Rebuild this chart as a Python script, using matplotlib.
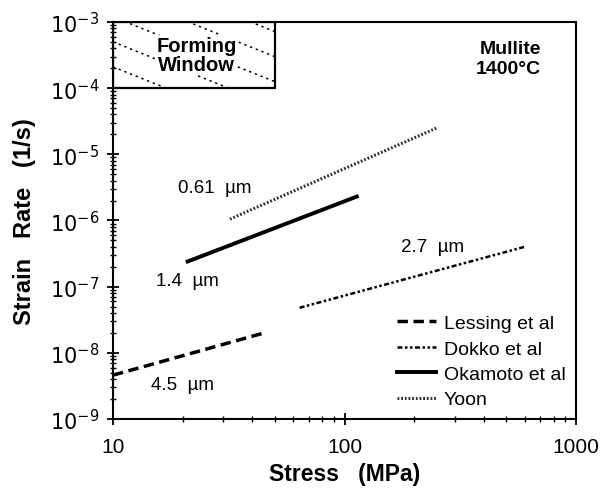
import matplotlib
matplotlib.use("Agg")
import matplotlib.pyplot as plt
import numpy as np
from matplotlib.patches import Rectangle

plt.rcParams['font.family'] = ['Liberation Sans', 'DejaVu Sans']

# data (stress MPa, strain rate 1/s), end points of each fit
lessing_x = [10, 45]
lessing_y = [4.6e-9, 2.0e-8]
dokko_x = [64, 600]
dokko_y = [4.8e-8, 4.0e-7]
okamoto_x = [21, 113]
okamoto_y = [2.4e-7, 2.3e-6]
yoon_x = [32, 250]
yoon_y = [1.05e-6, 2.5e-5]

window_x = [10, 50]
window_y = [1e-4, 1e-3]

sizes = ["4.5  \u00b5m", "2.7  \u00b5m", "1.4  \u00b5m", "0.61  \u00b5m"]
size_pos = [(20, 3.3e-9), (239, 4.1e-7), (21, 1.26e-7), (27.6, 3.2e-6)]

fig = plt.figure(figsize=(6.16, 4.89), dpi=100)
ax = fig.add_axes([113/616, 1 - 420/489, 463/616, 397/489])

ax.plot(lessing_x, lessing_y, color='black', lw=2.5, ls=(0, (3, 1.6)), label='Lessing et al')
ax.plot(dokko_x, dokko_y, color='black', lw=1.8, ls=(0, (2, 1, 1, 1, 1, 1)), label='Dokko et al')
ax.plot(okamoto_x, okamoto_y, color='black', lw=2.8, label='Okamoto et al')
ax.plot(yoon_x, yoon_y, color='#333333', lw=2.2, ls=(0, (0.6, 0.6)), label='Yoon')

ax.set_xscale('log')
ax.set_yscale('log')
ax.set_xlim(10, 1000)
ax.set_ylim(1e-9, 1e-3)

# forming window box with dotted hatching
rect = Rectangle((window_x[0], window_y[0]), window_x[1] - window_x[0], window_y[1] - window_y[0],
                 fill=False, edgecolor='black', lw=1.6, zorder=3)
ax.add_patch(rect)
for k in range(-7, 3):
    y0 = 0.950 - k * 0.063
    ln, = ax.plot([0, 0.5], [y0, y0 - 0.467 * 0.5], transform=ax.transAxes, color='black',
                  lw=1.1, ls=(0, (1.5, 2.5)), zorder=2)
    ln.set_clip_path(rect)
ax.text(23, 10**-3.5, "Forming\nWindow", ha='center', va='center', fontsize=14.5,
        fontweight='bold', linespacing=1.05, zorder=4,
        bbox=dict(facecolor='white', edgecolor='none', pad=0.3))

ax.text(0.925, 0.955, "Mullite\n1400\u00b0C", transform=ax.transAxes, ha='right', va='top',
        fontsize=14, fontweight='bold', linespacing=1.25)

for s, (px, py) in zip(sizes, size_pos):
    ax.text(px, py, s, ha='center', va='center', fontsize=13.5)

ax.set_xticks([10, 100, 1000])
ax.set_xticklabels(['10', '100', '1000'])
ax.set_yticks([10.0**k for k in range(-9, -2)])
ax.set_yticklabels(['$10^{-%d}$' % k for k in range(9, 2, -1)])
ax.tick_params(axis='both', which='major', direction='inout', length=8, width=1.3,
               labelsize=15, top=False, right=False, pad=6)
ax.tick_params(axis='x', which='major', pad=9)
ax.tick_params(axis='both', which='minor', direction='inout', length=4, width=1,
               top=False, right=False)
for sp in ax.spines.values():
    sp.set_linewidth(1.5)

ax.set_xlabel("Stress   (MPa)", fontsize=16.5, fontweight='bold', labelpad=4)
ax.set_ylabel("Strain   Rate   (1/s)", fontsize=17, fontweight='bold', labelpad=10)

leg = ax.legend(loc='lower right', frameon=False, fontsize=14, handlelength=2.0,
                handletextpad=0.4, labelspacing=0.4, borderaxespad=0.15)

fig.savefig('out.png', dpi=100)
